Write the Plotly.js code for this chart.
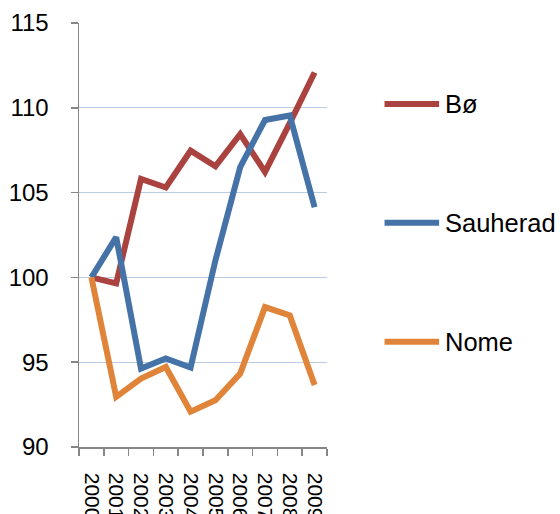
<!DOCTYPE html>
<html>
<head>
<meta charset="utf-8">
<script src="https://cdn.plot.ly/plotly-3.0.1.min.js"></script>
<style>html,body{margin:0;padding:0;background:#fff;}#chart{width:560px;height:514px;}</style>
</head>
<body>
<div id="chart"></div>
<script>
var years = ["2000","2001","2002","2003","2004","2005","2006","2007","2008","2009"];
var seriesNames = ["Bø", "Sauherad", "Nome"];
var boValues = [100, 99.65, 105.8, 105.3, 107.47, 106.55, 108.45, 106.22, 109.1, 112.08];
var sauheradValues = [100, 102.37, 94.63, 95.22, 94.69, 101.0, 106.5, 109.28, 109.55, 104.14];
var nomeValues = [100, 92.96, 94.04, 94.72, 92.08, 92.76, 94.33, 98.25, 97.76, 93.65];
var colors = ["#AA423F", "#4573A8", "#DF8438"];
var legendY = [0.809, 0.529, 0.248];

var allValues = [boValues, sauheradValues, nomeValues];
var traces = allValues.map(function(v, i) {
  return {
    type: "scatter", mode: "lines", x: years, y: v, name: seriesNames[i],
    line: {color: colors[i], width: 6},
    showlegend: false, hoverinfo: "skip"
  };
});

var shapes = [], annotations = [];
seriesNames.forEach(function(n, i) {
  shapes.push({type: "line", xref: "paper", yref: "paper", x0: 1.232, x1: 1.452,
    y0: legendY[i], y1: legendY[i], line: {color: colors[i], width: 6}});
  annotations.push({xref: "paper", yref: "paper", x: 1.468, y: legendY[i],
    xanchor: "left", yanchor: "middle", text: n, showarrow: false,
    font: {family: "Liberation Sans, Arial, sans-serif", size: 25.5, color: "#000"}});
});

var layout = {
  width: 560, height: 514,
  margin: {l: 79, r: 233, t: 23, b: 67},
  paper_bgcolor: "#fff", plot_bgcolor: "#fff",
  font: {family: "Liberation Sans, Arial, sans-serif", size: 24, color: "#000"},
  xaxis: {
    type: "category", range: [-0.5, 9.5], tickangle: 90, tickson: "boundaries",
    tickmode: "array", tickvals: years, ticktext: years,
    tickfont: {size: 21},
    ticks: "outside", ticklen: 7, tickcolor: "#868686", tickwidth: 1.5,
    showline: true, linecolor: "#868686", linewidth: 1.5, showgrid: false,
    ticklabelstandoff: 20, automargin: false, fixedrange: true
  },
  yaxis: {
    range: [90, 115], dtick: 5, tick0: 90, ticks: "outside", ticklen: 7,
    tickcolor: "#868686", tickwidth: 1.5, showline: true, linecolor: "#868686",
    linewidth: 1.5, gridcolor: "#B9CDE5", gridwidth: 1.2, zeroline: false,
    ticklabelstandoff: 17, automargin: false, fixedrange: true
  },
  shapes: shapes,
  annotations: annotations
};

Plotly.newPlot("chart", traces, layout, {displayModeBar: false, staticPlot: true});
</script>
</body>
</html>
